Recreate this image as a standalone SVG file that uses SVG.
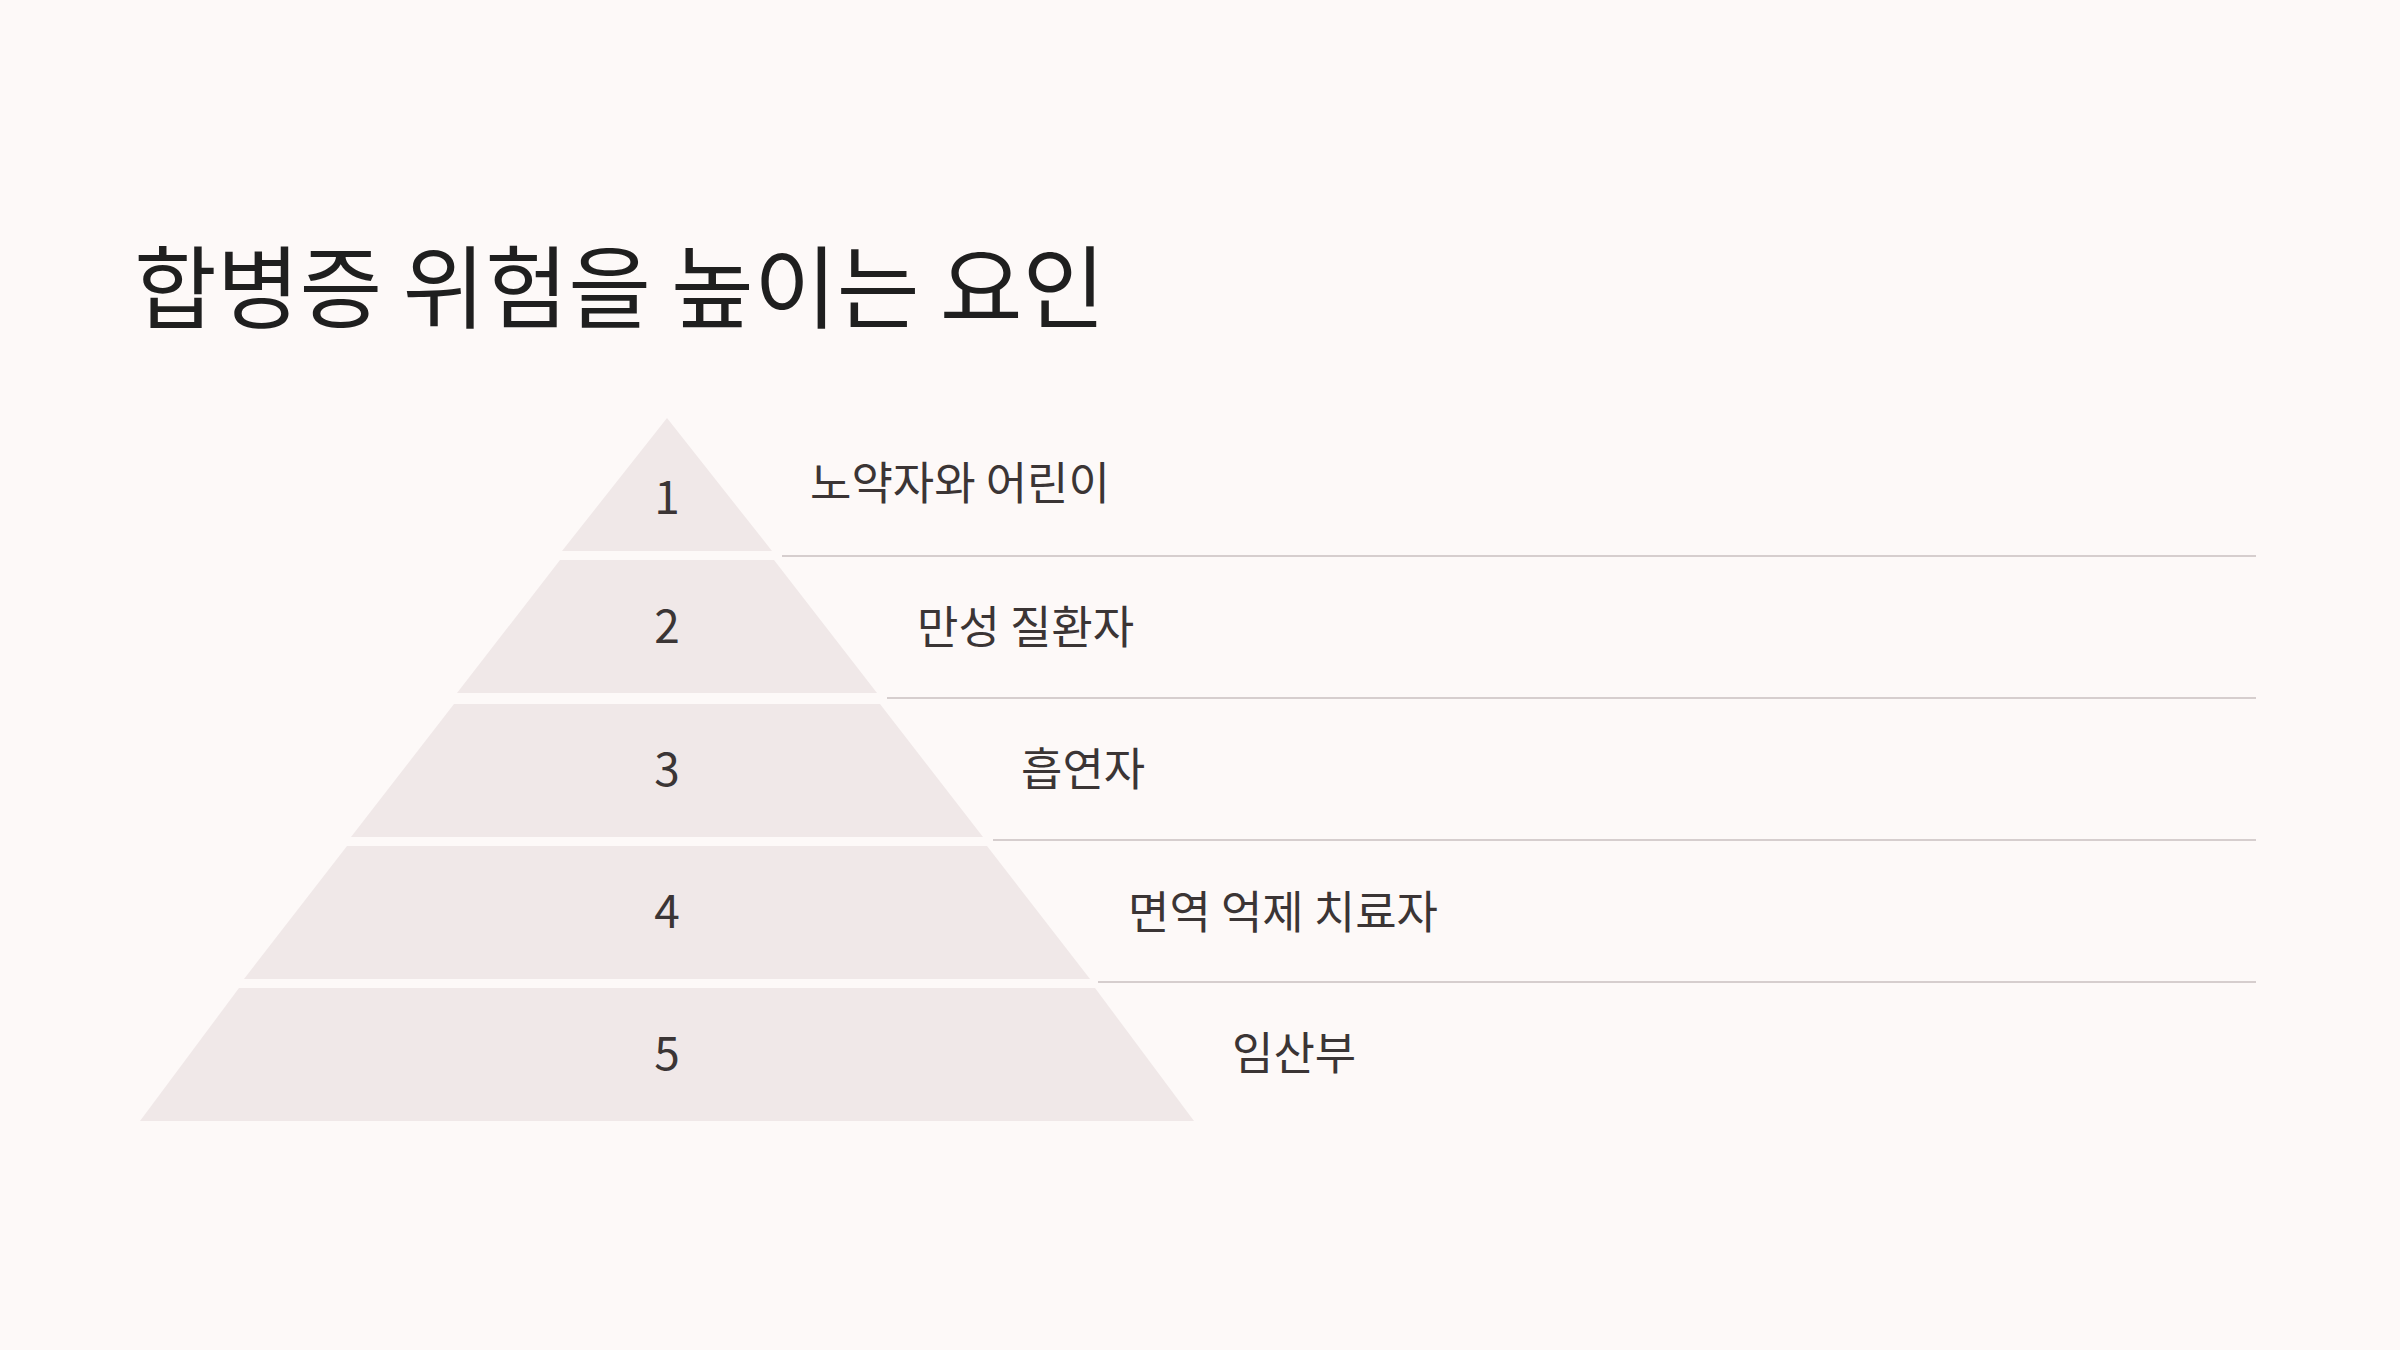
<svg xmlns="http://www.w3.org/2000/svg" width="2400" height="1350" viewBox="0 0 2400 1350">
<style>
.bg{fill:#fdf9f8}
.tier{fill:#f0e8e8}
.num{font-family:"Noto Sans CJK KR","Noto Sans",sans-serif;font-size:46px;fill:#3b3535;text-anchor:middle}
.lbl{font-family:"Noto Sans CJK KR","Noto Sans",sans-serif;font-size:45px;fill:#3b3535}
.title{font-family:"Noto Sans CJK KR","Noto Sans",sans-serif;font-size:90px;fill:#1f1f1f}
.sep{stroke:#d6cece;stroke-width:2;fill:none}
</style>
<rect class="bg" x="0" y="0" width="2400" height="1350"/>
<text class="title" x="134" y="321">합병증 위험을 높이는 요인</text>
<g id="tier1">
<polygon class="tier" points="667,418 772,551 562,551"/>
<text class="num" x="667" y="514">1</text>
<text class="lbl" x="810" y="500">노약자와 어린이</text>
</g>
<g id="tier2">
<polygon class="tier" points="560,560 774,560 877,693 457,693"/>
<text class="num" x="667" y="643">2</text>
<text class="lbl" x="917" y="644">만성 질환자</text>
</g>
<g id="tier3">
<polygon class="tier" points="454,704 880,704 983,837 351,837"/>
<text class="num" x="667" y="786">3</text>
<text class="lbl" x="1021" y="786">흡연자</text>
</g>
<g id="tier4">
<polygon class="tier" points="347,846 987,846 1090,979 244,979"/>
<text class="num" x="667" y="928">4</text>
<text class="lbl" x="1128" y="929">면역 억제 치료자</text>
</g>
<g id="tier5">
<polygon class="tier" points="239,988 1095,988 1194,1121 140,1121"/>
<text class="num" x="667" y="1070">5</text>
<text class="lbl" x="1232" y="1070">임산부</text>
</g>
<g id="connectors">
<line class="sep" x1="782" y1="556" x2="2256" y2="556"/>
<line class="sep" x1="887" y1="698" x2="2256" y2="698"/>
<line class="sep" x1="993" y1="840" x2="2256" y2="840"/>
<line class="sep" x1="1098" y1="982" x2="2256" y2="982"/>
</g>
</svg>
